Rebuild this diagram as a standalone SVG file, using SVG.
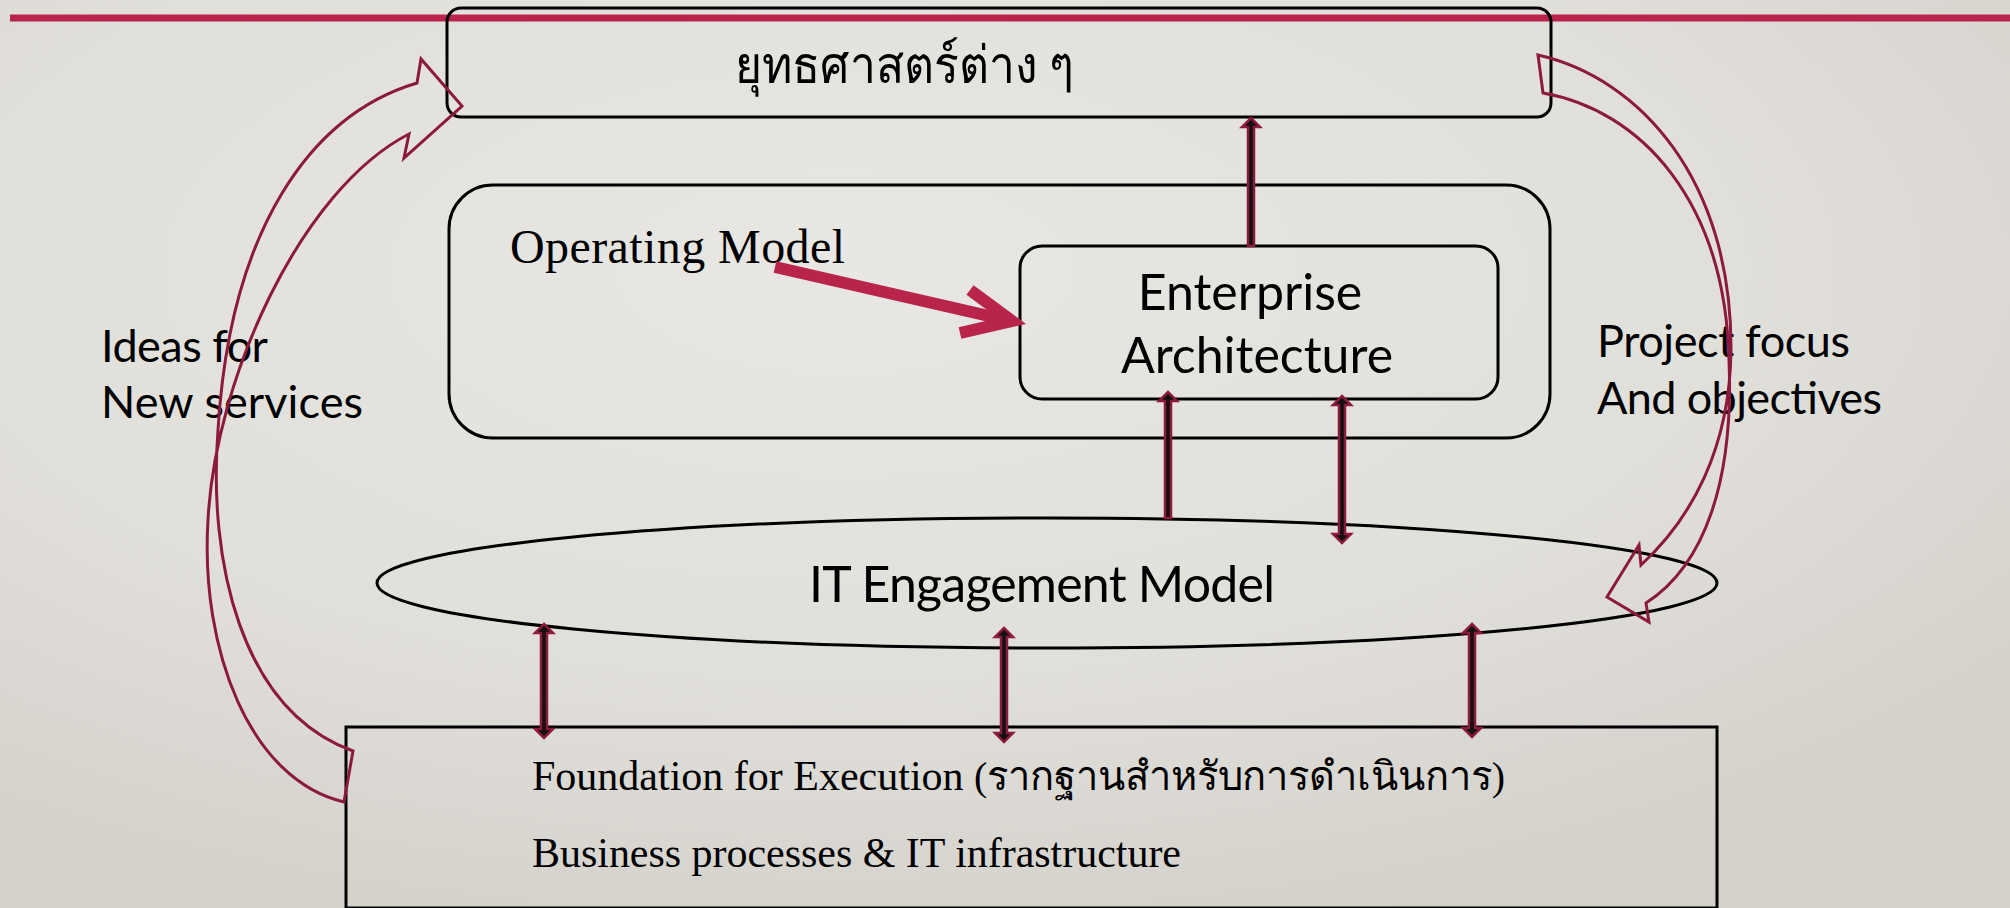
<svg xmlns="http://www.w3.org/2000/svg" width="2010" height="908" viewBox="0 0 2010 908">
<defs>
<radialGradient id="bg" cx="0.42" cy="0.3" r="0.75">
<stop offset="0" stop-color="#e9e7e3"/>
<stop offset="0.6" stop-color="#e1dfda"/>
<stop offset="1" stop-color="#d4d1cb"/>
</radialGradient>
<style>
.box{fill:none;stroke:#000;stroke-width:3}
.serif{font-family:"Liberation Serif","Noto Sans",serif;fill:#000}
.sans{font-family:Lato,"Open Sans",sans-serif;fill:#000}
.va{fill:#111;stroke:#8c1a3c;stroke-width:2.5;stroke-linejoin:miter}
.curve{fill:none;stroke:#8c1a3c;stroke-width:3;stroke-linejoin:miter}
.red{fill:none;stroke:#b8244a;stroke-width:12;stroke-linejoin:miter}
</style>
</defs>
<rect x="0" y="0" width="2010" height="908" fill="url(#bg)"/>
<line x1="10" y1="18" x2="2010" y2="18" stroke="#b8244a" stroke-width="7"/>

<g id="node-strategies">
<rect class="box" x="447" y="8" width="1104" height="109" rx="14"/>
<text class="serif" x="735" y="83" font-size="52" textLength="339" lengthAdjust="spacingAndGlyphs">ยุทธศาสตร์ต่าง ๆ</text>
</g>

<g id="node-operating-model">
<rect class="box" x="449" y="185" width="1101" height="253" rx="44"/>
<text class="serif" x="510" y="263" font-size="48" textLength="335">Operating Model</text>
</g>

<g id="node-enterprise-architecture">
<rect class="box" x="1020" y="246" width="478" height="153" rx="22"/>
<text class="sans" x="1250" y="310" font-size="50" text-anchor="middle">Enterprise</text>
<text class="sans" x="1257" y="373" font-size="50" text-anchor="middle">Architecture</text>
</g>

<g id="node-it-engagement">
<ellipse class="box" cx="1047" cy="583" rx="670" ry="65"/>
<text class="sans" x="809" y="602" font-size="50" textLength="466">IT Engagement Model</text>
</g>

<g id="node-foundation">
<rect class="box" x="346" y="727" width="1371" height="181"/>
<text class="serif" x="532" y="790" font-size="42">Foundation for Execution <tspan x="974" font-size="40" textLength="531" lengthAdjust="spacingAndGlyphs">(รากฐานสำหรับการดำเนินการ)</tspan></text>
<text class="serif" x="532" y="867" font-size="42" textLength="649">Business processes &amp; IT infrastructure</text>
</g>

<g id="label-ideas">
<text class="sans" x="101" y="362" font-size="45" textLength="167">Ideas for</text>
<text class="sans" x="101" y="418" font-size="45" textLength="262">New services</text>
</g>

<g id="label-project">
<text class="sans" x="1597" y="357" font-size="45" textLength="253">Project focus</text>
<text class="sans" x="1597" y="414" font-size="45" textLength="285">And objectives</text>
</g>

<g id="connectors">
<path class="red" d="M775,267 L1002,319"/>
<polyline class="red" points="970,290 1012,321 960,333"/>
<path class="va" d="M1251,118 L1260,127 L1254,127 L1254,246 L1248,246 L1248,127 L1242,127 Z"/>
<path class="va" d="M1168,392 L1177,401 L1171,401 L1171,518 L1165,518 L1165,401 L1159,401 Z"/>
<path class="va" d="M1342,396 L1351,405 L1345,405 L1345,534 L1351,534 L1342,543 L1333,534 L1339,534 L1339,405 L1333,405 Z"/>
<path class="va" d="M544,624 L553,633 L547,633 L547,729 L553,729 L544,738 L535,729 L541,729 L541,633 L535,633 Z"/>
<path class="va" d="M1004,628 L1013,637 L1007,637 L1007,733 L1013,733 L1004,742 L995,733 L1001,733 L1001,637 L995,637 Z"/>
<path class="va" d="M1472,624 L1481,633 L1475,633 L1475,728 L1481,728 L1472,737 L1463,728 L1469,728 L1469,633 L1463,633 Z"/>
<path class="curve" d="M353,751 C240,710 208,560 218,430 C230,230 310,115 417,83 L421,59 L462,106 L404,158 L409,134 C300,190 215,380 208,520 C200,650 250,780 344,802 Z"/>
<path class="curve" d="M1538,55 C1640,78 1732,180 1731,350 C1730,450 1690,520 1641,565 L1639,545 L1607,597 L1649,622 L1646,603 C1705,565 1734,480 1729,360 C1725,200 1640,110 1543,93 Z"/>
</g>
</svg>
